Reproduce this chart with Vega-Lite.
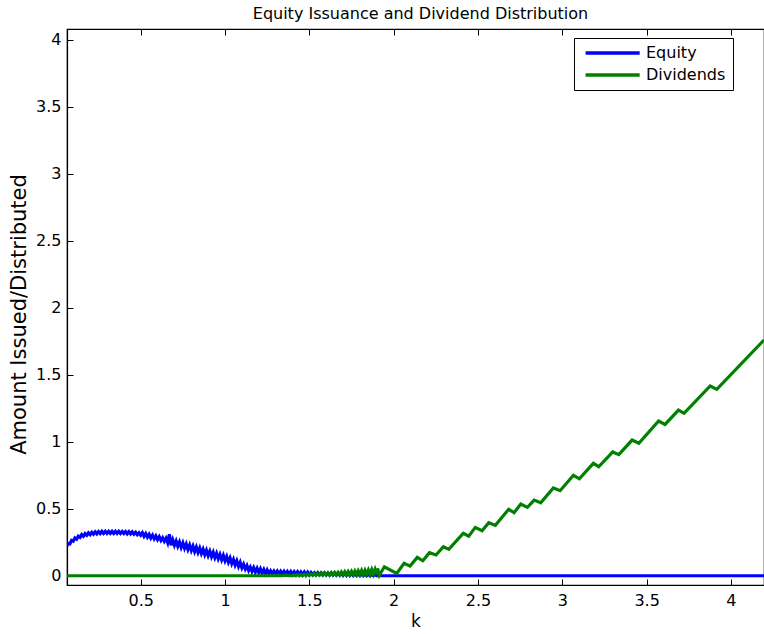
{
  "$schema": "https://vega.github.io/schema/vega-lite/v6.json",
  "width": 697,
  "height": 556,
  "autosize": "none",
  "padding": {"left": 67, "top": 29, "right": 0, "bottom": 49},
  "background": "white",
  "config": {
    "font": "DejaVu Sans",
    "view": {"stroke": "black", "strokeWidth": 1.2},
    "axis": {"grid": false, "domainColor": "black", "tickColor": "black", "labelColor": "black", "titleColor": "black", "labelFont": "DejaVu Sans", "titleFont": "DejaVu Sans", "titleFontWeight": "normal"}
  },
  "title": {"text": "Equity Issuance and Dividend Distribution", "fontSize": 16, "fontWeight": "normal", "font": "DejaVu Sans", "color": "black", "offset": 7, "anchor": "middle", "dx": 5},
  "datasets": {
    "d": [
      {"k": 0.063, "v": 0.225, "s": "Equity"},
      {"k": 0.07, "v": 0.240, "s": "Equity"},
      {"k": 0.08, "v": 0.237, "s": "Equity"},
      {"k": 0.09, "v": 0.264, "s": "Equity"},
      {"k": 0.10, "v": 0.258, "s": "Equity"},
      {"k": 0.11, "v": 0.282, "s": "Equity"},
      {"k": 0.12, "v": 0.273, "s": "Equity"},
      {"k": 0.13, "v": 0.296, "s": "Equity"},
      {"k": 0.14, "v": 0.286, "s": "Equity"},
      {"k": 0.15, "v": 0.307, "s": "Equity"},
      {"k": 0.16, "v": 0.295, "s": "Equity"},
      {"k": 0.17, "v": 0.315, "s": "Equity"},
      {"k": 0.18, "v": 0.302, "s": "Equity"},
      {"k": 0.19, "v": 0.321, "s": "Equity"},
      {"k": 0.20, "v": 0.307, "s": "Equity"},
      {"k": 0.21, "v": 0.325, "s": "Equity"},
      {"k": 0.22, "v": 0.311, "s": "Equity"},
      {"k": 0.23, "v": 0.328, "s": "Equity"},
      {"k": 0.24, "v": 0.313, "s": "Equity"},
      {"k": 0.25, "v": 0.330, "s": "Equity"},
      {"k": 0.26, "v": 0.315, "s": "Equity"},
      {"k": 0.27, "v": 0.332, "s": "Equity"},
      {"k": 0.28, "v": 0.316, "s": "Equity"},
      {"k": 0.29, "v": 0.332, "s": "Equity"},
      {"k": 0.30, "v": 0.316, "s": "Equity"},
      {"k": 0.31, "v": 0.332, "s": "Equity"},
      {"k": 0.32, "v": 0.316, "s": "Equity"},
      {"k": 0.33, "v": 0.332, "s": "Equity"},
      {"k": 0.34, "v": 0.316, "s": "Equity"},
      {"k": 0.35, "v": 0.332, "s": "Equity"},
      {"k": 0.36, "v": 0.316, "s": "Equity"},
      {"k": 0.37, "v": 0.332, "s": "Equity"},
      {"k": 0.38, "v": 0.316, "s": "Equity"},
      {"k": 0.39, "v": 0.331, "s": "Equity"},
      {"k": 0.40, "v": 0.315, "s": "Equity"},
      {"k": 0.41, "v": 0.330, "s": "Equity"},
      {"k": 0.42, "v": 0.313, "s": "Equity"},
      {"k": 0.43, "v": 0.329, "s": "Equity"},
      {"k": 0.44, "v": 0.312, "s": "Equity"},
      {"k": 0.45, "v": 0.328, "s": "Equity"},
      {"k": 0.46, "v": 0.311, "s": "Equity"},
      {"k": 0.47, "v": 0.325, "s": "Equity"},
      {"k": 0.48, "v": 0.307, "s": "Equity"},
      {"k": 0.49, "v": 0.321, "s": "Equity"},
      {"k": 0.50, "v": 0.303, "s": "Equity"},
      {"k": 0.51, "v": 0.321, "s": "Equity"},
      {"k": 0.52, "v": 0.294, "s": "Equity"},
      {"k": 0.53, "v": 0.315, "s": "Equity"},
      {"k": 0.54, "v": 0.288, "s": "Equity"},
      {"k": 0.55, "v": 0.309, "s": "Equity"},
      {"k": 0.56, "v": 0.282, "s": "Equity"},
      {"k": 0.57, "v": 0.303, "s": "Equity"},
      {"k": 0.58, "v": 0.276, "s": "Equity"},
      {"k": 0.59, "v": 0.297, "s": "Equity"},
      {"k": 0.60, "v": 0.270, "s": "Equity"},
      {"k": 0.61, "v": 0.291, "s": "Equity"},
      {"k": 0.62, "v": 0.264, "s": "Equity"},
      {"k": 0.63, "v": 0.284, "s": "Equity"},
      {"k": 0.64, "v": 0.257, "s": "Equity"},
      {"k": 0.65, "v": 0.280, "s": "Equity"},
      {"k": 0.66, "v": 0.247, "s": "Equity"},
      {"k": 0.67, "v": 0.310, "s": "Equity"},
      {"k": 0.68, "v": 0.228, "s": "Equity"},
      {"k": 0.69, "v": 0.268, "s": "Equity"},
      {"k": 0.70, "v": 0.228, "s": "Equity"},
      {"k": 0.71, "v": 0.260, "s": "Equity"},
      {"k": 0.72, "v": 0.220, "s": "Equity"},
      {"k": 0.73, "v": 0.252, "s": "Equity"},
      {"k": 0.74, "v": 0.212, "s": "Equity"},
      {"k": 0.75, "v": 0.245, "s": "Equity"},
      {"k": 0.76, "v": 0.205, "s": "Equity"},
      {"k": 0.77, "v": 0.237, "s": "Equity"},
      {"k": 0.78, "v": 0.197, "s": "Equity"},
      {"k": 0.79, "v": 0.229, "s": "Equity"},
      {"k": 0.80, "v": 0.189, "s": "Equity"},
      {"k": 0.81, "v": 0.221, "s": "Equity"},
      {"k": 0.82, "v": 0.181, "s": "Equity"},
      {"k": 0.83, "v": 0.214, "s": "Equity"},
      {"k": 0.84, "v": 0.174, "s": "Equity"},
      {"k": 0.85, "v": 0.206, "s": "Equity"},
      {"k": 0.86, "v": 0.166, "s": "Equity"},
      {"k": 0.87, "v": 0.198, "s": "Equity"},
      {"k": 0.88, "v": 0.158, "s": "Equity"},
      {"k": 0.89, "v": 0.190, "s": "Equity"},
      {"k": 0.90, "v": 0.150, "s": "Equity"},
      {"k": 0.91, "v": 0.183, "s": "Equity"},
      {"k": 0.92, "v": 0.143, "s": "Equity"},
      {"k": 0.93, "v": 0.175, "s": "Equity"},
      {"k": 0.94, "v": 0.135, "s": "Equity"},
      {"k": 0.95, "v": 0.167, "s": "Equity"},
      {"k": 0.96, "v": 0.127, "s": "Equity"},
      {"k": 0.97, "v": 0.159, "s": "Equity"},
      {"k": 0.98, "v": 0.120, "s": "Equity"},
      {"k": 0.99, "v": 0.152, "s": "Equity"},
      {"k": 1.00, "v": 0.112, "s": "Equity"},
      {"k": 1.01, "v": 0.143, "s": "Equity"},
      {"k": 1.02, "v": 0.101, "s": "Equity"},
      {"k": 1.03, "v": 0.132, "s": "Equity"},
      {"k": 1.04, "v": 0.091, "s": "Equity"},
      {"k": 1.05, "v": 0.121, "s": "Equity"},
      {"k": 1.06, "v": 0.080, "s": "Equity"},
      {"k": 1.07, "v": 0.111, "s": "Equity"},
      {"k": 1.08, "v": 0.069, "s": "Equity"},
      {"k": 1.09, "v": 0.100, "s": "Equity"},
      {"k": 1.10, "v": 0.059, "s": "Equity"},
      {"k": 1.11, "v": 0.086, "s": "Equity"},
      {"k": 1.12, "v": 0.051, "s": "Equity"},
      {"k": 1.13, "v": 0.076, "s": "Equity"},
      {"k": 1.14, "v": 0.040, "s": "Equity"},
      {"k": 1.15, "v": 0.065, "s": "Equity"},
      {"k": 1.16, "v": 0.033, "s": "Equity"},
      {"k": 1.17, "v": 0.061, "s": "Equity"},
      {"k": 1.18, "v": 0.028, "s": "Equity"},
      {"k": 1.19, "v": 0.056, "s": "Equity"},
      {"k": 1.20, "v": 0.024, "s": "Equity"},
      {"k": 1.21, "v": 0.052, "s": "Equity"},
      {"k": 1.22, "v": 0.020, "s": "Equity"},
      {"k": 1.23, "v": 0.047, "s": "Equity"},
      {"k": 1.24, "v": 0.015, "s": "Equity"},
      {"k": 1.25, "v": 0.043, "s": "Equity"},
      {"k": 1.26, "v": 0.017, "s": "Equity"},
      {"k": 1.27, "v": 0.037, "s": "Equity"},
      {"k": 1.28, "v": 0.016, "s": "Equity"},
      {"k": 1.29, "v": 0.036, "s": "Equity"},
      {"k": 1.30, "v": 0.015, "s": "Equity"},
      {"k": 1.31, "v": 0.035, "s": "Equity"},
      {"k": 1.32, "v": 0.014, "s": "Equity"},
      {"k": 1.33, "v": 0.034, "s": "Equity"},
      {"k": 1.34, "v": 0.013, "s": "Equity"},
      {"k": 1.35, "v": 0.033, "s": "Equity"},
      {"k": 1.36, "v": 0.012, "s": "Equity"},
      {"k": 1.37, "v": 0.032, "s": "Equity"},
      {"k": 1.38, "v": 0.011, "s": "Equity"},
      {"k": 1.39, "v": 0.031, "s": "Equity"},
      {"k": 1.40, "v": 0.010, "s": "Equity"},
      {"k": 1.41, "v": 0.030, "s": "Equity"},
      {"k": 1.42, "v": 0.009, "s": "Equity"},
      {"k": 1.43, "v": 0.029, "s": "Equity"},
      {"k": 1.44, "v": 0.008, "s": "Equity"},
      {"k": 1.45, "v": 0.028, "s": "Equity"},
      {"k": 1.46, "v": 0.007, "s": "Equity"},
      {"k": 1.47, "v": 0.027, "s": "Equity"},
      {"k": 1.48, "v": 0.006, "s": "Equity"},
      {"k": 1.49, "v": 0.026, "s": "Equity"},
      {"k": 1.50, "v": 0.006, "s": "Equity"},
      {"k": 1.51, "v": 0.024, "s": "Equity"},
      {"k": 1.52, "v": 0.008, "s": "Equity"},
      {"k": 1.53, "v": 0.023, "s": "Equity"},
      {"k": 1.54, "v": 0.007, "s": "Equity"},
      {"k": 1.55, "v": 0.023, "s": "Equity"},
      {"k": 1.56, "v": 0.007, "s": "Equity"},
      {"k": 1.57, "v": 0.022, "s": "Equity"},
      {"k": 1.58, "v": 0.006, "s": "Equity"},
      {"k": 1.59, "v": 0.022, "s": "Equity"},
      {"k": 1.60, "v": 0.006, "s": "Equity"},
      {"k": 1.61, "v": 0.021, "s": "Equity"},
      {"k": 1.62, "v": 0.005, "s": "Equity"},
      {"k": 1.63, "v": 0.021, "s": "Equity"},
      {"k": 1.64, "v": 0.005, "s": "Equity"},
      {"k": 1.65, "v": 0.020, "s": "Equity"},
      {"k": 1.66, "v": 0.004, "s": "Equity"},
      {"k": 1.67, "v": 0.020, "s": "Equity"},
      {"k": 1.68, "v": 0.004, "s": "Equity"},
      {"k": 1.69, "v": 0.019, "s": "Equity"},
      {"k": 1.70, "v": 0.003, "s": "Equity"},
      {"k": 1.71, "v": 0.019, "s": "Equity"},
      {"k": 1.72, "v": 0.003, "s": "Equity"},
      {"k": 1.73, "v": 0.018, "s": "Equity"},
      {"k": 1.74, "v": 0.002, "s": "Equity"},
      {"k": 1.75, "v": 0.017, "s": "Equity"},
      {"k": 1.76, "v": 0.002, "s": "Equity"},
      {"k": 1.77, "v": 0.016, "s": "Equity"},
      {"k": 1.78, "v": 0.001, "s": "Equity"},
      {"k": 1.79, "v": 0.015, "s": "Equity"},
      {"k": 1.80, "v": 0.001, "s": "Equity"},
      {"k": 1.81, "v": 0.014, "s": "Equity"},
      {"k": 1.82, "v": 0.001, "s": "Equity"},
      {"k": 1.83, "v": 0.013, "s": "Equity"},
      {"k": 1.84, "v": 0, "s": "Equity"},
      {"k": 1.85, "v": 0.012, "s": "Equity"},
      {"k": 1.86, "v": 0, "s": "Equity"},
      {"k": 1.87, "v": 0.010, "s": "Equity"},
      {"k": 1.88, "v": 0, "s": "Equity"},
      {"k": 1.89, "v": 0.008, "s": "Equity"},
      {"k": 1.90, "v": 0, "s": "Equity"},
      {"k": 1.91, "v": 0.005, "s": "Equity"},
      {"k": 1.92, "v": 0, "s": "Equity"},
      {"k": 4.196, "v": 0, "s": "Equity"},
      {"k": 0.063, "v": 0, "s": "Dividends"},
      {"k": 1.30, "v": 0, "s": "Dividends"},
      {"k": 1.32, "v": 0.003, "s": "Dividends"},
      {"k": 1.34, "v": 0, "s": "Dividends"},
      {"k": 1.36, "v": 0.004, "s": "Dividends"},
      {"k": 1.38, "v": 0, "s": "Dividends"},
      {"k": 1.40, "v": 0, "s": "Dividends"},
      {"k": 1.41, "v": 0.006, "s": "Dividends"},
      {"k": 1.42, "v": 0.001, "s": "Dividends"},
      {"k": 1.43, "v": 0.008, "s": "Dividends"},
      {"k": 1.44, "v": 0.001, "s": "Dividends"},
      {"k": 1.45, "v": 0.009, "s": "Dividends"},
      {"k": 1.46, "v": 0.002, "s": "Dividends"},
      {"k": 1.47, "v": 0.011, "s": "Dividends"},
      {"k": 1.48, "v": 0.002, "s": "Dividends"},
      {"k": 1.49, "v": 0.012, "s": "Dividends"},
      {"k": 1.50, "v": 0.003, "s": "Dividends"},
      {"k": 1.51, "v": 0.014, "s": "Dividends"},
      {"k": 1.52, "v": 0.003, "s": "Dividends"},
      {"k": 1.53, "v": 0.015, "s": "Dividends"},
      {"k": 1.54, "v": 0.004, "s": "Dividends"},
      {"k": 1.55, "v": 0.017, "s": "Dividends"},
      {"k": 1.56, "v": 0.004, "s": "Dividends"},
      {"k": 1.57, "v": 0.018, "s": "Dividends"},
      {"k": 1.58, "v": 0.005, "s": "Dividends"},
      {"k": 1.59, "v": 0.020, "s": "Dividends"},
      {"k": 1.60, "v": 0.005, "s": "Dividends"},
      {"k": 1.61, "v": 0.021, "s": "Dividends"},
      {"k": 1.62, "v": 0.006, "s": "Dividends"},
      {"k": 1.63, "v": 0.023, "s": "Dividends"},
      {"k": 1.64, "v": 0.006, "s": "Dividends"},
      {"k": 1.65, "v": 0.024, "s": "Dividends"},
      {"k": 1.66, "v": 0.007, "s": "Dividends"},
      {"k": 1.67, "v": 0.026, "s": "Dividends"},
      {"k": 1.68, "v": 0.007, "s": "Dividends"},
      {"k": 1.69, "v": 0.028, "s": "Dividends"},
      {"k": 1.70, "v": 0.008, "s": "Dividends"},
      {"k": 1.71, "v": 0.030, "s": "Dividends"},
      {"k": 1.72, "v": 0.008, "s": "Dividends"},
      {"k": 1.73, "v": 0.031, "s": "Dividends"},
      {"k": 1.74, "v": 0.009, "s": "Dividends"},
      {"k": 1.75, "v": 0.033, "s": "Dividends"},
      {"k": 1.76, "v": 0.009, "s": "Dividends"},
      {"k": 1.77, "v": 0.035, "s": "Dividends"},
      {"k": 1.78, "v": 0.010, "s": "Dividends"},
      {"k": 1.79, "v": 0.037, "s": "Dividends"},
      {"k": 1.80, "v": 0.010, "s": "Dividends"},
      {"k": 1.81, "v": 0.039, "s": "Dividends"},
      {"k": 1.82, "v": 0.011, "s": "Dividends"},
      {"k": 1.83, "v": 0.041, "s": "Dividends"},
      {"k": 1.84, "v": 0.011, "s": "Dividends"},
      {"k": 1.85, "v": 0.043, "s": "Dividends"},
      {"k": 1.86, "v": 0.012, "s": "Dividends"},
      {"k": 1.87, "v": 0.046, "s": "Dividends"},
      {"k": 1.88, "v": 0.012, "s": "Dividends"},
      {"k": 1.89, "v": 0.048, "s": "Dividends"},
      {"k": 1.90, "v": 0.013, "s": "Dividends"},
      {"k": 1.905, "v": 0.055, "s": "Dividends"},
      {"k": 1.915, "v": 0.003, "s": "Dividends"},
      {"k": 1.945, "v": 0.067, "s": "Dividends"},
      {"k": 2.018, "v": 0.018, "s": "Dividends"},
      {"k": 2.062, "v": 0.093, "s": "Dividends"},
      {"k": 2.097, "v": 0.072, "s": "Dividends"},
      {"k": 2.14, "v": 0.137, "s": "Dividends"},
      {"k": 2.173, "v": 0.112, "s": "Dividends"},
      {"k": 2.212, "v": 0.172, "s": "Dividends"},
      {"k": 2.251, "v": 0.155, "s": "Dividends"},
      {"k": 2.295, "v": 0.217, "s": "Dividends"},
      {"k": 2.327, "v": 0.197, "s": "Dividends"},
      {"k": 2.413, "v": 0.317, "s": "Dividends"},
      {"k": 2.445, "v": 0.296, "s": "Dividends"},
      {"k": 2.484, "v": 0.361, "s": "Dividends"},
      {"k": 2.524, "v": 0.336, "s": "Dividends"},
      {"k": 2.564, "v": 0.396, "s": "Dividends"},
      {"k": 2.603, "v": 0.376, "s": "Dividends"},
      {"k": 2.682, "v": 0.496, "s": "Dividends"},
      {"k": 2.714, "v": 0.471, "s": "Dividends"},
      {"k": 2.754, "v": 0.535, "s": "Dividends"},
      {"k": 2.793, "v": 0.511, "s": "Dividends"},
      {"k": 2.833, "v": 0.565, "s": "Dividends"},
      {"k": 2.872, "v": 0.545, "s": "Dividends"},
      {"k": 2.947, "v": 0.655, "s": "Dividends"},
      {"k": 2.987, "v": 0.635, "s": "Dividends"},
      {"k": 3.066, "v": 0.75, "s": "Dividends"},
      {"k": 3.101, "v": 0.724, "s": "Dividends"},
      {"k": 3.184, "v": 0.839, "s": "Dividends"},
      {"k": 3.216, "v": 0.814, "s": "Dividends"},
      {"k": 3.299, "v": 0.924, "s": "Dividends"},
      {"k": 3.335, "v": 0.904, "s": "Dividends"},
      {"k": 3.414, "v": 1.013, "s": "Dividends"},
      {"k": 3.454, "v": 0.989, "s": "Dividends"},
      {"k": 3.571, "v": 1.155, "s": "Dividends"},
      {"k": 3.609, "v": 1.13, "s": "Dividends"},
      {"k": 3.689, "v": 1.237, "s": "Dividends"},
      {"k": 3.722, "v": 1.213, "s": "Dividends"},
      {"k": 3.877, "v": 1.417, "s": "Dividends"},
      {"k": 3.916, "v": 1.392, "s": "Dividends"},
      {"k": 4.196, "v": 1.76, "s": "Dividends"}
    ]
  },
  "data": {"name": "d"},
  "layer": [
    {
      "mark": {"type": "line", "strokeWidth": 3.2, "clip": true, "strokeJoin": "miter"},
      "encoding": {
        "x": {"field": "k", "type": "quantitative", "scale": {"domain": [0.063, 4.196], "nice": false, "zero": false},
          "axis": {"orient": "bottom", "values": [0.5, 1, 1.5, 2, 2.5, 3, 3.5, 4], "format": "~g", "tickSize": -6, "labelPadding": 13, "labelFontSize": 16, "title": "k", "titleFontSize": 17, "titlePadding": 5, "domainWidth": 1.2, "tickWidth": 1}},
        "y": {"field": "v", "type": "quantitative", "scale": {"domain": [-0.069, 4.082], "nice": false, "zero": false},
          "axis": {"orient": "left", "values": [0, 0.5, 1, 1.5, 2, 2.5, 3, 3.5, 4], "format": "~g", "tickSize": -6, "labelPadding": 12, "labelFontSize": 16, "title": "Amount Issued/Distributed", "titleFontSize": 21, "titlePadding": 6, "titleY": 285, "domainWidth": 1.2, "tickWidth": 1}},
        "color": {"field": "s", "type": "nominal", "sort": ["Equity", "Dividends"],
          "scale": {"domain": ["Equity", "Dividends"], "range": ["#0000ff", "#008000"]},
          "legend": {"title": null, "orient": "none", "legendX": 507, "legendY": 9, "symbolType": "M-1,0H9", "symbolStrokeWidth": 3.5, "symbolSize": 117, "symbolOffset": 2, "labelOffset": 47, "labelFontSize": 16, "labelColor": "black", "labelFont": "DejaVu Sans", "strokeColor": "black", "fillColor": "white", "padding": 7, "rowPadding": 6}}
      }
    },
    {
      "mark": {"type": "line", "opacity": 0, "clip": true},
      "encoding": {
        "x": {"field": "k", "type": "quantitative", "scale": {"domain": [0.063, 4.196], "nice": false, "zero": false},
          "axis": {"orient": "top", "values": [0.5, 1, 1.5, 2, 2.5, 3, 3.5, 4], "tickSize": -6, "labels": false, "title": null, "domainWidth": 1.2, "tickWidth": 1}},
        "y": {"field": "v", "type": "quantitative"}
      }
    }
  ],
  "resolve": {"axis": {"x": "independent"}}
}
